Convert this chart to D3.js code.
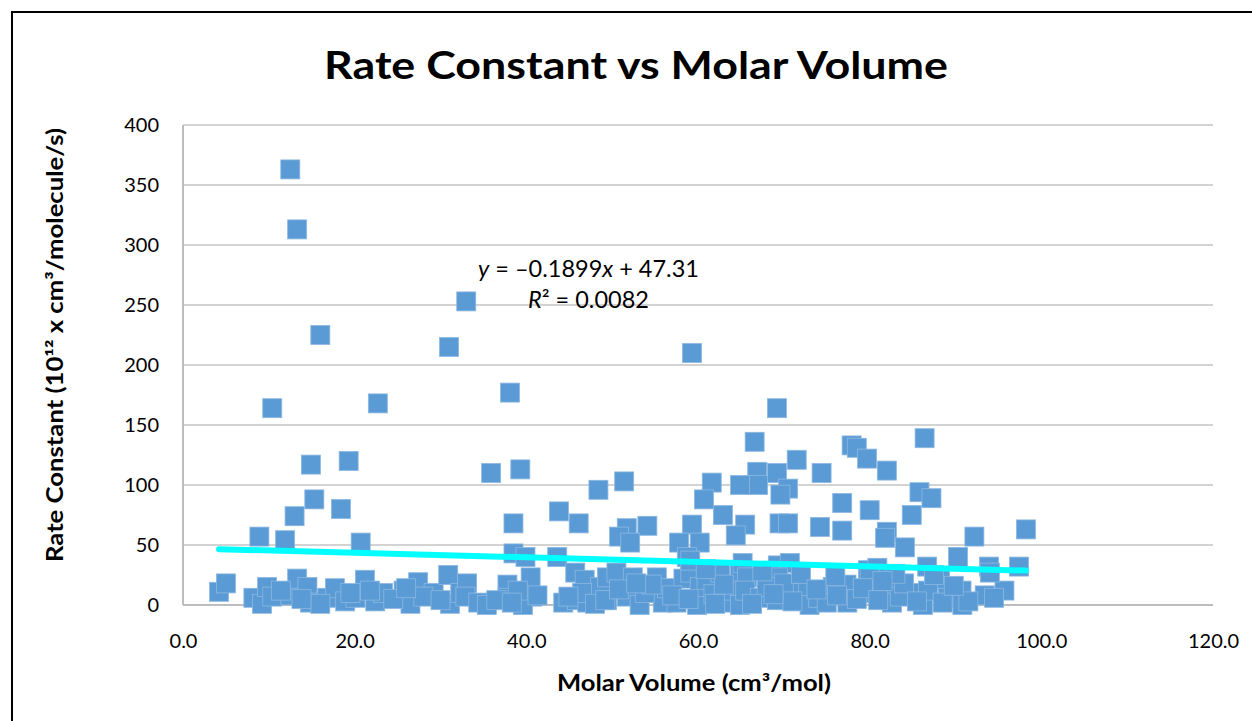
<!DOCTYPE html>
<html>
<head>
<meta charset="utf-8">
<script src="https://cdn.jsdelivr.net/npm/d3@7"></script>
<style>
  html, body { margin: 0; padding: 0; background: #fff; }
  svg { display: block; }
</style>
</head>
<body>
<div id="chart"></div>
<script>
// Molar volume (cm3/mol) and rate constant (1e12 x cm3/molecule/s)
const molarVolume = [
  12.5, 13.3, 16.0, 33.0, 31.0, 59.3, 10.4, 22.7, 38.1, 69.2, 86.4, 66.6, 77.9, 78.5, 79.7,
  14.9, 19.3, 35.9, 39.3, 71.5, 74.4, 82.0, 66.9, 69.2, 67.0, 64.9, 61.6, 70.5, 69.6, 48.4,
  51.4, 15.3, 18.4, 60.7, 85.8, 87.2, 76.8, 80.0, 38.5, 43.8, 46.1, 51.7, 54.1, 59.3, 62.9,
  65.5, 69.5, 70.5, 74.2, 76.8, 82.0, 81.8, 84.1, 84.9, 92.2, 98.2, 8.9, 11.9, 13.0, 20.7,
  50.8, 52.1, 57.8, 60.2, 64.4, 38.5, 39.9, 43.6, 58.7, 90.3, 93.9, 97.4, 86.7, 79.8, 80.9,
  69.3, 70.7, 64.9, 45.7, 40.5, 46.8, 65.2,
  4.2, 5.0, 8.2, 9.2, 9.8, 10.4, 12.5, 13.3, 14.5, 14.8, 16.8, 17.7, 18.9, 20.1, 21.2,
  22.4, 23.3, 25.7, 27.4, 26.5, 29.2, 30.9, 31.1, 32.3, 33.1, 11.4, 16.0, 24.5, 28.0, 19.5,
  21.8, 26.0, 30.0, 13.8,
  32.9, 34.4, 35.4, 37.8, 37.8, 40.7, 39.6, 41.3, 44.3, 45.9, 47.1, 48.6, 49.4, 36.5, 39.0,
  38.3, 46.5, 44.9, 48.0,
  49.4, 50.5, 52.4, 49.2, 51.7, 53.2, 55.2, 55.9, 57.5, 56.4, 58.3, 59.1, 59.9, 60.2, 59.1,
  61.0, 62.6, 63.3, 64.1, 64.9, 65.7, 50.8, 53.8, 54.6, 57.0, 58.9, 61.8, 62.0, 63.0, 52.8,
  60.9,
  65.5, 67.2, 69.3, 69.2, 71.6, 72.8, 73.0, 75.7, 77.3, 77.4, 80.0, 80.0, 82.1, 82.6, 85.0,
  86.2, 88.2, 89.1, 90.7, 93.4, 95.7, 90.8, 68.0, 70.0, 71.0, 74.0, 75.0, 76.2, 78.5, 79.2,
  81.0, 83.5, 84.0, 86.8, 88.5, 91.5, 94.5, 67.5, 72.0, 76.0, 83.0, 87.5, 66.3, 68.8, 73.8,
  81.5, 85.5, 89.8, 94.0
];
const rateConstant = [
  363, 313, 225, 253, 215, 210, 164, 168, 177, 164, 139, 136, 133, 131, 122,
  117, 120, 110, 113, 121, 110, 112, 111, 110, 100, 100, 102, 97, 92, 96,
  103, 88, 80, 88, 94, 89, 85, 79, 68, 78, 68, 64, 66, 67, 75,
  67, 68, 68, 65, 62, 61, 56, 48, 75, 57, 63, 57, 54, 74, 52,
  57, 52, 52, 52, 58, 43, 40, 40, 40, 40, 32, 32, 32, 29, 31,
  33, 35, 27, 27, 23, 21, 35,
  11, 18, 6, 1, 15, 7, 8, 22, 15, 2, 6, 14, 3, 6, 21,
  3, 10, 12, 19, 1, 10, 25, 1, 10, 18, 12, 1, 5, 7, 10,
  12, 14, 4, 5,
  7, 2, 0, 17, 6, 7, 0, 8, 2, 4, 2, 15, 4, 4, 12,
  2, 10, 7, 1,
  23, 27, 23, 4, 7, 0, 23, 2, 2, 14, 22, 27, 0, 15, 37,
  21, 27, 2, 12, 0, 23, 13, 10, 17, 8, 5, 9, 1, 17, 18,
  30,
  12, 6, 23, 4, 10, 12, 0, 15, 17, 2, 23, 10, 15, 2, 10,
  0, 21, 6, 12, 8, 12, 0, 15, 18, 3, 6, 2, 8, 5, 14,
  4, 7, 18, 12, 2, 3, 6, 28, 26, 24, 26, 25, 1, 9, 13,
  20, 3, 16, 27
];

const xTicks = [0, 20, 40, 60, 80, 100, 120];
const yTicks = [0, 50, 100, 150, 200, 250, 300, 350, 400];

// Linear trendline as reported on the chart
const slope = -0.1899;
const intercept = 47.31;
const r2 = 0.0082;

const W = 1252, H = 721;
const plot = { left: 183, top: 125, right: 1213, bottom: 605 };

const svg = d3.select('#chart').append('svg')
  .attr('width', W)
  .attr('height', H);

svg.append('rect').attr('width', W).attr('height', H).attr('fill', '#fff');

// Outer chart frame (runs past right and bottom of the picture)
svg.append('rect')
  .attr('x', 12).attr('y', 12)
  .attr('width', W + 20).attr('height', H + 20)
  .attr('fill', 'none')
  .attr('stroke', '#000')
  .attr('stroke-width', 2);

const x = d3.scaleLinear().domain([0, 120]).range([plot.left, plot.right]);
const y = d3.scaleLinear().domain([0, 400]).range([plot.bottom, plot.top]);

const font = 'Lato, "Open Sans", sans-serif';

// Gridlines
svg.append('g')
  .selectAll('line')
  .data(yTicks.filter(d => d > 0))
  .enter().append('line')
  .attr('x1', plot.left).attr('x2', plot.right)
  .attr('y1', d => y(d)).attr('y2', d => y(d))
  .attr('stroke', '#c4c4c4')
  .attr('stroke-width', 1.5);

// Axis lines
svg.append('line')
  .attr('x1', plot.left).attr('x2', plot.right)
  .attr('y1', plot.bottom).attr('y2', plot.bottom)
  .attr('stroke', '#bdbdbd').attr('stroke-width', 2);
svg.append('line')
  .attr('x1', plot.left).attr('x2', plot.left)
  .attr('y1', plot.top).attr('y2', plot.bottom)
  .attr('stroke', '#bdbdbd').attr('stroke-width', 2);

// Axes (labels only)
const yAxis = svg.append('g')
  .attr('transform', `translate(${plot.left},0)`)
  .call(d3.axisLeft(y).tickValues(yTicks).tickSize(0).tickPadding(24).tickFormat(d3.format('d')));
yAxis.select('.domain').remove();
yAxis.selectAll('text')
  .style('font-family', font)
  .style('font-size', '20px')
  .attr('fill', '#000');

const xAxis = svg.append('g')
  .attr('transform', `translate(0,${plot.bottom})`)
  .call(d3.axisBottom(x).tickValues(xTicks).tickSize(0).tickPadding(29).tickFormat(d3.format('.1f')));
xAxis.select('.domain').remove();
xAxis.selectAll('text')
  .style('font-family', font)
  .style('font-size', '20px')
  .attr('fill', '#000');

// Data markers
const pts = molarVolume.map((v, i) => ({ v: v, k: rateConstant[i] }));
const size = 19;
svg.append('g')
  .selectAll('rect')
  .data(pts)
  .enter().append('rect')
  .attr('x', d => x(d.v) - size / 2)
  .attr('y', d => y(d.k) - size / 2)
  .attr('width', size)
  .attr('height', size)
  .attr('fill', '#5b9bd5')
  .attr('stroke', '#8cb8e2')
  .attr('stroke-width', 0.8);

// Trendline over data range
const xr = d3.extent(molarVolume);
const trend = xr.map(v => [v, slope * v + intercept]);
svg.append('path')
  .datum(trend)
  .attr('d', d3.line().x(d => x(d[0])).y(d => y(d[1])))
  .attr('stroke', '#00ffff')
  .attr('stroke-width', 6)
  .attr('stroke-linecap', 'round')
  .attr('fill', 'none');

// Trendline equation
const eq = svg.append('text')
  .attr('x', 478).attr('y', 277)
  .style('font-family', font)
  .style('font-size', '23.5px')
  .attr('fill', '#000');
eq.append('tspan').style('font-style', 'italic').text('y');
eq.append('tspan').text(` = \u2013${Math.abs(slope)}`);
eq.append('tspan').style('font-style', 'italic').text('x');
eq.append('tspan').text(` + ${intercept}`);

const rt = svg.append('text')
  .attr('x', 528).attr('y', 308)
  .style('font-family', font)
  .style('font-size', '23.5px')
  .attr('fill', '#000');
rt.append('tspan').style('font-style', 'italic').text('R');
rt.append('tspan').text(`\u00b2 = ${r2.toFixed(4)}`);

// Title
svg.append('text')
  .attr('x', 636).attr('y', 79)
  .attr('text-anchor', 'middle')
  .style('font-family', font)
  .style('font-size', '38px')
  .style('font-weight', 'bold')
  .attr('textLength', 624)
  .attr('lengthAdjust', 'spacingAndGlyphs')
  .text('Rate Constant vs Molar Volume');

// Axis titles
svg.append('text')
  .attr('x', 694).attr('y', 691)
  .attr('text-anchor', 'middle')
  .style('font-family', font)
  .style('font-size', '22px')
  .style('font-weight', 'bold')
  .attr('textLength', 274)
  .attr('lengthAdjust', 'spacingAndGlyphs')
  .text('Molar Volume (cm\u00b3/mol)');

svg.append('text')
  .attr('transform', 'translate(63,345) rotate(-90)')
  .attr('text-anchor', 'middle')
  .style('font-family', font)
  .style('font-size', '22px')
  .style('font-weight', 'bold')
  .attr('textLength', 434)
  .attr('lengthAdjust', 'spacingAndGlyphs')
  .text('Rate Constant (10\u00b9\u00b2 x cm\u00b3/molecule/s)');
</script>
</body>
</html>
